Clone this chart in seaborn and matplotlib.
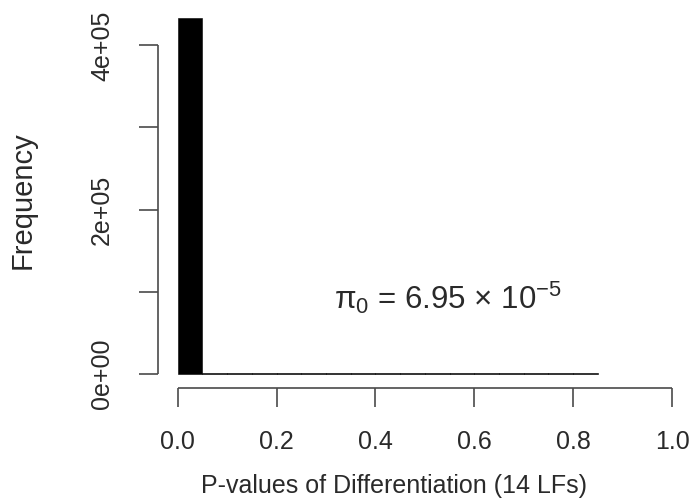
import matplotlib
matplotlib.use("Agg")
import matplotlib.pyplot as plt
import seaborn as sns

# Histogram of differentiation p-values, 0.05-wide bins from 0 to 0.85
bin_edges = [0.00, 0.05, 0.10, 0.15, 0.20, 0.25, 0.30, 0.35, 0.40, 0.45,
             0.50, 0.55, 0.60, 0.65, 0.70, 0.75, 0.80, 0.85]
bin_counts = [433000, 600, 700, 1500, 800, 600, 600, 700, 1400, 700,
              600, 600, 700, 1400, 600, 600, 500]

y_ticks = [0, 100000, 200000, 300000, 400000]
y_tick_labels = ["0e+00", "", "2e+05", "", "4e+05"]
x_ticks = [0.0, 0.2, 0.4, 0.6, 0.8, 1.0]
x_tick_labels = ["0.0", "0.2", "0.4", "0.6", "0.8", "1.0"]

sns.set_style("white")
plt.rcParams["font.family"] = ["Liberation Sans", "DejaVu Sans"]
plt.rcParams["mathtext.fontset"] = "custom"
plt.rcParams["mathtext.rm"] = "Liberation Sans"
plt.rcParams["mathtext.it"] = "Liberation Sans"

text_col = "#2a2a2a"
axis_col = "#4a4a4a"

fig = plt.figure(figsize=(6.96, 5.04), dpi=100)
ax = fig.add_axes([0.227, 0.230, 0.767, 0.762])

centers = [(a + b) / 2 for a, b in zip(bin_edges[:-1], bin_edges[1:])]
sns.histplot(x=centers, weights=bin_counts, bins=bin_edges, ax=ax,
             color="black", edgecolor="black", linewidth=0.4, alpha=1.0)

ymax = max(bin_counts)
ax.set_xlim(-0.04, 1.04)
ax.set_ylim(-0.04 * ymax, 1.04 * ymax)

for s in ax.spines.values():
    s.set_visible(False)

# R-style axes: lines running only between the first and last ticks
ax.plot([x_ticks[0], x_ticks[-1]], [-0.04 * ymax] * 2, color=axis_col,
        lw=1.2, clip_on=False, solid_capstyle="butt")
ax.plot([-0.04, -0.04], [y_ticks[0], y_ticks[-1]], color=axis_col,
        lw=1.2, clip_on=False, solid_capstyle="butt")

ax.set_xticks(x_ticks)
ax.set_xticklabels(x_tick_labels)
ax.set_yticks(y_ticks)
ax.set_yticklabels(y_tick_labels, rotation=90, va="center")
ax.tick_params(axis="both", which="both", length=13.5, width=1.2,
               color=axis_col, labelsize=18, labelcolor=text_col,
               direction="out", bottom=True, left=True)
ax.tick_params(axis="x", pad=17)
ax.tick_params(axis="y", pad=18)

ax.set_xlabel("P-values of Differentiation (14 LFs)", fontsize=18,
              color=text_col, va="center")
ax.xaxis.set_label_coords(0.442, -0.255)
ax.set_ylabel("Frequency", fontsize=21, color=text_col, va="center")
ax.yaxis.set_label_coords(-0.253, 0.49)

ax.text(0.547, 93000, r"$\mathregular{\pi_0}$ = 6.95 × 10$\mathregular{^{-5}}$",
        fontsize=22.5, color=text_col, ha="center", va="center")

fig.savefig("out.png", dpi=100)
